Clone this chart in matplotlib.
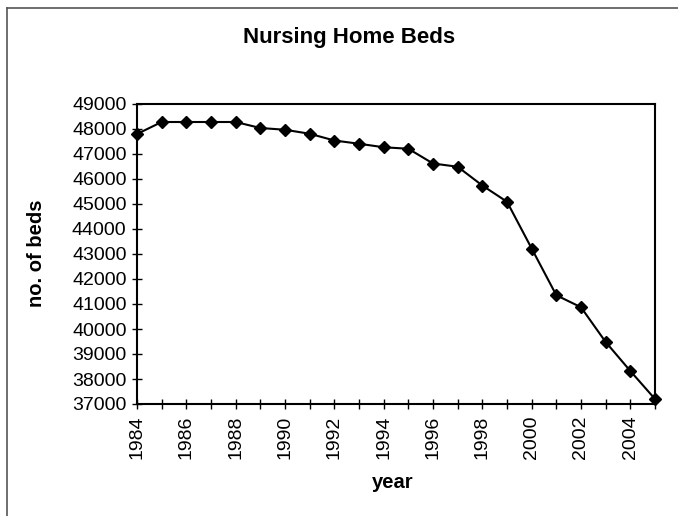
import matplotlib
matplotlib.use("Agg")
import matplotlib.pyplot as plt
from matplotlib.lines import Line2D

plt.rcParams['font.family'] = ['Liberation Sans', 'DejaVu Sans']

years = list(range(1984, 2006))
beds = [47800, 48280, 48280, 48280, 48280, 48040, 47970, 47810, 47540, 47410,
        47270, 47210, 46620, 46490, 45740, 45090, 43220, 41350, 40870, 39480,
        38320, 37200]
y_ticks = list(range(37000, 49001, 1000))
x_tick_labels = [str(y) if y % 2 == 0 else '' for y in years]

fig = plt.figure(figsize=(6.78, 5.16), dpi=100)
ax = fig.add_axes([137/678, 1-404/516, (655-137)/678, (404-104)/516])

ax.plot(years, beds, color='black', linewidth=1.5, marker='D',
        markersize=6.3, markerfacecolor='black', markeredgecolor='black',
        clip_on=False, zorder=5)

ax.set_xlim(1984, 2005)
ax.set_ylim(37000, 49000)
ax.set_yticks(y_ticks)
ax.set_yticklabels([str(v) for v in y_ticks], fontsize=14)
ax.set_xticks(years)
ax.set_xticklabels(x_tick_labels, rotation=90, fontsize=14)
ax.tick_params(axis='both', direction='inout', length=7, width=1, colors='black')
ax.tick_params(axis='x', pad=5)
ax.tick_params(axis='y', pad=4)
for s in ax.spines.values():
    s.set_linewidth(1.5)
    s.set_color('black')

ax.set_xlabel('year', fontsize=14.5, fontweight='bold')
ax.xaxis.set_label_coords((393 - 137) / (655 - 137), 1 - (483 - 104) / (404 - 104), transform=ax.transAxes)
ax.xaxis.label.set_va('center')
ax.set_ylabel('no. of beds', fontsize=14.5, fontweight='bold')
ax.yaxis.set_label_coords((36 - 137) / (655 - 137), 1 - (253 - 104) / (404 - 104), transform=ax.transAxes)
ax.yaxis.label.set_va('center')

fig.text(349.5/678, 1-37/516, 'Nursing Home Beds', ha='center', va='center',
         fontsize=16, fontweight='bold')

# outer frame
fig.add_artist(Line2D([7/678, 1], [1-8/516, 1-8/516], transform=fig.transFigure, color='#555555', linewidth=1.2))
fig.add_artist(Line2D([7/678, 7/678], [1-8/516, 0], transform=fig.transFigure, color='#555555', linewidth=1.2))

fig.savefig('out.png', dpi=100)
